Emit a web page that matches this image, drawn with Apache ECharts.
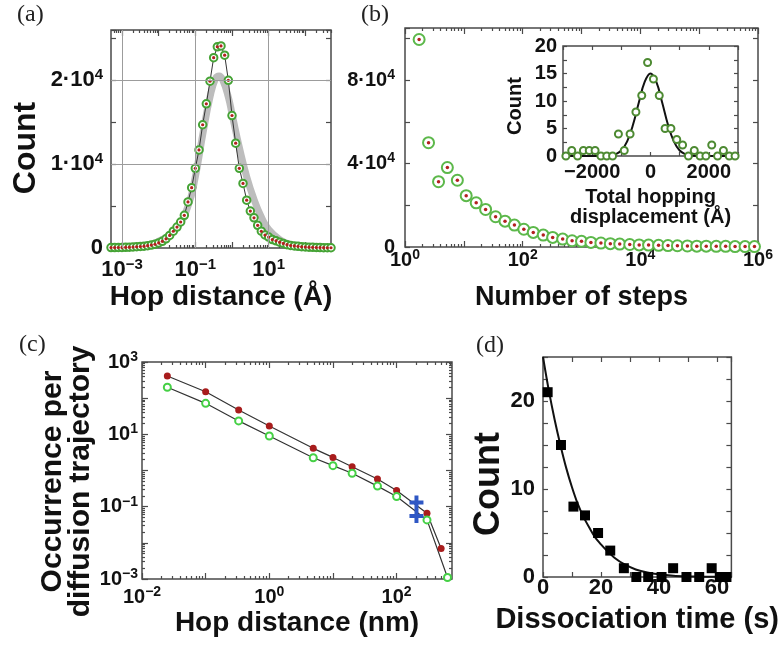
<!DOCTYPE html>
<html>
<head>
<meta charset="utf-8">
<script src="https://cdn.jsdelivr.net/npm/echarts@6/dist/echarts.min.js"></script>
<style>
html, body { margin: 0; background: #fff; }
#chart { width: 781px; height: 648px; }
</style>
</head>
<body>
<div id="chart"></div>
<script>
// (a) hop distance histogram, x is log10 of hop distance (Å)
const hopExpA = [-3.3, -3.2, -3.1, -3.0, -2.9, -2.8, -2.7, -2.6, -2.5, -2.4, -2.3, -2.2, -2.1, -2.0, -1.9, -1.8, -1.7, -1.6, -1.5, -1.4,
  -1.3, -1.2, -1.1, -1.0, -0.9, -0.8, -0.7, -0.6, -0.5, -0.4, -0.3, -0.2, -0.1, 0.0, 0.1, 0.2, 0.3, 0.4, 0.5, 0.6,
  0.7, 0.8, 0.9, 1.0, 1.1, 1.2, 1.3, 1.4, 1.5, 1.6, 1.7, 1.8, 1.9, 2.0, 2.1, 2.2, 2.3, 2.4, 2.5, 2.6, 2.7];
const hopCountA = [50, 50, 60, 70, 80, 100, 120, 150, 180, 220, 280, 350, 450, 600, 800, 1100, 1500, 2000, 2500, 3100,
  3900, 5500, 7200, 9500, 11700, 14700, 17200, 19900, 22700, 24000, 24100, 23000, 20000, 15800, 12500, 9500, 7700, 5700, 4400, 3600,
  2700, 2000, 1550, 1300, 1000, 850, 700, 550, 400, 300, 250, 200, 150, 120, 100, 80, 60, 50, 40, 30, 30];
const grayExpA = [-3.3, -2.5, -2.0, -1.5, -1.2, -1.0, -0.8, -0.6, -0.45, -0.35, -0.25, -0.1, 0.0, 0.2, 0.4, 0.6, 0.8, 1.0, 1.3, 1.6, 2.0, 2.7];
const grayCountA = [0, 200, 800, 2500, 5000, 8500, 13500, 18000, 20200, 20500, 20000, 18000, 16000, 12000, 8500, 5800, 3700, 2200, 1000, 400, 100, 0];

// (b) number of steps, x is log10 of steps
const stepExpB = [0.24, 0.40, 0.57, 0.72, 0.89, 1.04, 1.21, 1.37, 1.54, 1.70, 1.86, 2.02, 2.18, 2.35, 2.51, 2.68, 2.84, 3.00,
  3.16, 3.33, 3.49, 3.65, 3.82, 3.98, 4.14, 4.31, 4.47, 4.63, 4.80, 4.96, 5.12, 5.29, 5.45, 5.61, 5.78, 5.94];
const stepCountB = [99500, 50000, 31300, 38100, 32000, 24600, 21200, 18000, 14500, 12400, 10500, 8500, 7000, 5700, 4600, 3800, 3000, 2700,
  2200, 1900, 1600, 1400, 1200, 1000, 900, 800, 700, 600, 500, 400, 400, 300, 300, 200, 200, 200];

// (b) inset: total hopping displacement
const dispB = [-2900, -2700, -2500, -2300, -2100, -1900, -1700, -1500, -1300, -1100, -900, -700, -500, -300, -100,
  100, 300, 500, 700, 900, 1100, 1300, 1500, 1700, 1900, 2100, 2300, 2500, 2700, 2900];
const dispCountB = [0, 1, 0, 1, 1, 1, 0, 0, 0, 4, 1, 4, 8, 11, 17, 14, 11, 5, 5, 3, 2, 0, 1, 0, 0, 2, 0, 1, 0, 0];
const fitDispB = [-3000, -1600, -1400, -1200, -1000, -800, -600, -400, -200, 0, 200, 400, 600, 800, 1000, 1200, 1400, 1600, 3000];
const fitCountB = [0, 0.01, 0.08, 0.31, 1.0, 2.66, 5.67, 9.73, 13.46, 15, 13.46, 9.73, 5.67, 2.66, 1.0, 0.31, 0.08, 0.01, 0];

// (c) occurrence per trajectory vs hop distance (nm)
const hopNmRed = [0.025, 0.1, 0.33, 1, 4.9, 10, 20, 50, 100, 300, 500];
const occRed = [410, 150, 47, 17, 4.1, 2.3, 1.27, 0.58, 0.28, 0.066, 0.007];
const hopNmGreen = [0.025, 0.1, 0.33, 1, 4.9, 10, 20, 50, 100, 300, 630];
const occGreen = [200, 72, 23.5, 9, 2.26, 1.36, 0.84, 0.37, 0.19, 0.043, 0.0011];
const hopNmBlue = [205, 205];
const occBlue = [0.13, 0.055];

// (d) dissociation time histogram and fit
const timeD = [1.6, 6.2, 10.5, 14.5, 19.0, 23.2, 27.9, 32.2, 36.3, 40.9, 44.9, 49.5, 53.9, 58.2, 61.0, 63.3];
const countD = [21, 15, 8, 7, 5, 3, 1, 0, 0, 0, 1, 0, 0, 1, 0, 0];
const fitTimeD = [0, 2, 4, 6, 8, 10, 12, 14, 16, 18, 20, 22, 25, 28, 32, 36, 40, 45, 50, 55, 60, 65];
const fitCountD = [25, 21.2, 17.9, 15.0, 12.4, 10.2, 8.3, 6.8, 5.6, 4.5, 3.7, 3.0, 2.1, 1.45, 0.85, 0.5, 0.3, 0.15, 0.08, 0.04, 0.02, 0.01];

// tick labels (powers of ten)
const labelsA = [-3, -1, 1];
const labelsB = [0, 2, 4, 6];
const labelsCx = [-2, 0, 2];
const labelsCy = [-3, -1, 1, 3];

const SANS = '"Liberation Sans", Arial, sans-serif';
const FRAME = '#4a4a4a';

function pow10(v) {
  const e = Math.round(v);
  return '{b|10}{s|' + (e < 0 ? '\u2212' + (-e) : e) + '}';
}
function rich(fs) {
  return {
    b: {fontSize: fs, fontWeight: 'bold', fontFamily: SANS, color: '#111', lineHeight: Math.round(fs * 1.2)},
    s: {fontSize: Math.round(fs * 0.68), fontWeight: 'bold', fontFamily: SANS, color: '#111',
        lineHeight: Math.round(fs * 0.45), verticalAlign: 'top'}
  };
}
function nameStyle(fs, shift) {
  // shift > 0 moves a rotated y-axis name down the page
  const s = {fontSize: fs, fontWeight: 'bold', fontFamily: SANS, color: '#111'};
  if (shift) s.padding = [0, shift * 2, 0, 0];
  return s;
}
function majors(lo, hi) {
  const out = [];
  for (let e = Math.ceil(lo); e <= hi; e++) out.push(e);
  return out;
}
function minors(lo, hi) {
  const out = [];
  for (let e = Math.floor(lo); e < hi; e++) {
    for (let k = 2; k < 10; k++) {
      const v = e + Math.log10(k);
      if (v >= lo && v <= hi) out.push(v);
    }
  }
  return out;
}
const zip = (xs, ys, fx, fy) => xs.map((x, i) => [fx ? fx(x) : x, fy ? fy(ys[i]) : ys[i]]);

const xAxes = [], yAxes = [];
function axis(list, gi, pos, min, max, tick, label, name) {
  const a = {
    type: 'value', gridIndex: gi, position: pos, min: min, max: max,
    axisLine: {show: false, onZero: false},
    splitLine: {show: false},
    axisPointer: {show: false},
    axisTick: {inside: true, length: tick.len, lineStyle: {color: FRAME, width: 1.2}},
    axisLabel: {show: false}
  };
  if (tick.values) a.axisTick.customValues = tick.values;
  else a.interval = tick.interval;
  if (label) a.axisLabel = Object.assign({show: true, color: '#111', fontWeight: 'bold', fontFamily: SANS}, label);
  if (name) Object.assign(a, {nameLocation: 'middle'}, name);
  list.push(a);
  return list.length - 1;
}
function logSide(list, gi, pos, lo, hi, label, name) {
  const idx = axis(list, gi, pos, lo, hi, {values: majors(lo, hi), len: 6}, label, name);
  axis(list, gi, pos, lo, hi, {values: minors(lo, hi), len: 3});
  return idx;
}

// (a)
const xA = logSide(xAxes, 0, 'bottom', -3.3, 2.7,
  {customValues: labelsA, formatter: pow10, rich: rich(22), margin: 9},
  {name: 'Hop distance (Å)', nameGap: 35, nameTextStyle: nameStyle(28)});
logSide(xAxes, 0, 'top', -3.3, 2.7);
const yA = axis(yAxes, 0, 'left', 0, 26000, {interval: 5000, len: 5},
  {formatter: v => v === 0 ? '{b|0}' : (v % 10000 === 0 ? '{b|' + v / 10000 + '·10}{s|4}' : ''), rich: rich(22), margin: 8},
  {name: 'Count', nameGap: 69, nameTextStyle: nameStyle(32, 9)});
axis(yAxes, 0, 'right', 0, 26000, {interval: 5000, len: 5});

// (b)
const xB = logSide(xAxes, 1, 'bottom', 0, 6,
  {customValues: labelsB, formatter: pow10, rich: rich(20), margin: 1},
  {name: 'Number of steps', nameGap: 37, nameTextStyle: nameStyle(27)});
logSide(xAxes, 1, 'top', 0, 6);
const yB = axis(yAxes, 1, 'left', 0, 105000, {interval: 20000, len: 5},
  {formatter: v => v === 0 ? '{b|0}' : (v % 40000 === 0 ? '{b|' + v / 10000 + '·10}{s|4}' : ''), rich: rich(20), margin: 10});
axis(yAxes, 1, 'right', 0, 105000, {interval: 20000, len: 5});

// (b) inset
const xI = axis(xAxes, 2, 'bottom', -3000, 3000, {interval: 1000, len: 4},
  {formatter: v => v % 2000 === 0 ? String(v).replace('-', '\u2212') : '', fontSize: 20, lineHeight: 24, margin: 4},
  {name: 'Total hopping\ndisplacement (Å)', nameGap: 31, nameTextStyle: Object.assign(nameStyle(20), {lineHeight: 20})});
axis(xAxes, 2, 'top', -3000, 3000, {interval: 1000, len: 4});
const yI = axis(yAxes, 2, 'left', 0, 20, {interval: 2.5, len: 4},
  {formatter: v => v % 5 === 0 ? String(v) : '', fontSize: 20, margin: 6},
  {name: 'Count', nameGap: 38, nameTextStyle: nameStyle(20, 5)});
axis(yAxes, 2, 'right', 0, 20, {interval: 2.5, len: 4});

// (c)
const xC = logSide(xAxes, 3, 'bottom', -2, 2.87,
  {customValues: labelsCx, formatter: pow10, rich: rich(20), margin: 6},
  {name: 'Hop distance (nm)', nameGap: 30, nameTextStyle: nameStyle(28)});
logSide(xAxes, 3, 'top', -2, 2.87);
const yC = logSide(yAxes, 3, 'left', -3, 3,
  {customValues: labelsCy, formatter: pow10, rich: rich(20), margin: 4},
  {name: 'Occurrence per\ndiffusion trajectory', nameGap: 33, nameTextStyle: Object.assign(nameStyle(30, 11), {lineHeight: 28})});
logSide(yAxes, 3, 'right', -3, 3);

// (d)
const xD = axis(xAxes, 4, 'bottom', 0, 65, {interval: 10, len: 5},
  {formatter: v => v % 20 === 0 ? String(v) : '', fontSize: 22, lineHeight: 26, margin: -2},
  {name: 'Dissociation time (s)', nameGap: 28, nameTextStyle: nameStyle(29)});
axis(xAxes, 4, 'top', 0, 65, {interval: 10, len: 5});
const yD = axis(yAxes, 4, 'left', 0, 25, {interval: 2.5, len: 5},
  {formatter: v => v % 10 === 0 ? String(v) : '', fontSize: 22, margin: 8},
  {name: 'Count', nameGap: 24, nameTextStyle: nameStyle(36, 17)});
axis(yAxes, 4, 'right', 0, 25, {interval: 2.5, len: 5});

const plus = 'path://M-1.7,-6H1.7V-1.7H6V1.7H1.7V6H-1.7V1.7H-6V-1.7H-1.7Z';
const lg = Math.log10;

const option = {
  backgroundColor: '#fff',
  animation: false,
  grid: [
    {left: 111, top: 30, width: 220, height: 218},
    {left: 405, top: 28, width: 353, height: 219},
    {left: 563, top: 46, width: 175, height: 110, backgroundColor: '#fff'},
    {left: 142, top: 362, width: 310, height: 217},
    {left: 543, top: 357, width: 200, height: 220}
  ].map(g => Object.assign({show: true, borderColor: FRAME, borderWidth: 1.5, backgroundColor: 'transparent'}, g)),
  xAxis: xAxes,
  yAxis: yAxes,
  graphic: [
    {type: 'text', left: 17, top: 3, style: {text: '(a)', font: '24px "Liberation Serif"', fill: '#222'}},
    {type: 'text', left: 361, top: 3, style: {text: '(b)', font: '24px "Liberation Serif"', fill: '#222'}},
    {type: 'text', left: 19, top: 333, style: {text: '(c)', font: '24px "Liberation Serif"', fill: '#222'}},
    {type: 'text', left: 476, top: 334, style: {text: '(d)', font: '24px "Liberation Serif"', fill: '#222'}}
  ],
  series: [
    // (a)
    {type: 'line', xAxisIndex: xA, yAxisIndex: yA, data: zip(grayExpA, grayCountA), smooth: true, symbol: 'none',
     lineStyle: {color: '#bdbdbd', width: 7}, z: 1, silent: true,
     markLine: {silent: true, symbol: 'none', label: {show: false}, lineStyle: {color: '#9c9c9c', width: 1, type: 'solid'},
       data: [{xAxis: -3}, {xAxis: -1}, {xAxis: 1}, {yAxis: 10000}, {yAxis: 20000}]}},
    {type: 'line', xAxisIndex: xA, yAxisIndex: yA, data: zip(hopExpA, hopCountA), symbol: 'emptyCircle', symbolSize: 7.5,
     itemStyle: {color: '#45a335', borderWidth: 1.9}, lineStyle: {color: '#333', width: 1}, z: 3},
    {type: 'scatter', xAxisIndex: xA, yAxisIndex: yA, data: zip(hopExpA, hopCountA), symbolSize: 3.2,
     itemStyle: {color: '#b3201f', opacity: 1}, z: 4},
    // (b)
    {type: 'scatter', xAxisIndex: xB, yAxisIndex: yB, data: zip(stepExpB, stepCountB), symbol: 'emptyCircle', symbolSize: 11,
     itemStyle: {color: '#5cb84a', borderWidth: 3.4, opacity: 1}, z: 3},
    {type: 'scatter', xAxisIndex: xB, yAxisIndex: yB, data: zip(stepExpB, stepCountB), symbolSize: 3.5,
     itemStyle: {color: '#b3201f', opacity: 1}, z: 4},
    // (b) inset
    {type: 'line', xAxisIndex: xI, yAxisIndex: yI, data: zip(fitDispB, fitCountB), smooth: 0.4, symbol: 'none',
     lineStyle: {color: '#111', width: 2}, z: 3},
    {type: 'scatter', xAxisIndex: xI, yAxisIndex: yI, data: zip(dispB, dispCountB), symbol: 'emptyCircle', symbolSize: 7,
     itemStyle: {color: '#4d8a32', borderWidth: 1.6, opacity: 1}, z: 4},
    // (c)
    {type: 'line', xAxisIndex: xC, yAxisIndex: yC, data: zip(hopNmRed, occRed, lg, lg), symbol: 'circle', symbolSize: 7,
     itemStyle: {color: '#a81c1c'}, lineStyle: {color: '#333', width: 1.2}, z: 3},
    {type: 'line', xAxisIndex: xC, yAxisIndex: yC, data: zip(hopNmGreen, occGreen, lg, lg), symbol: 'emptyCircle', symbolSize: 7,
     itemStyle: {color: '#45d045', borderWidth: 2}, lineStyle: {color: '#333', width: 1.2}, z: 3},
    {type: 'scatter', xAxisIndex: xC, yAxisIndex: yC, data: zip(hopNmBlue, occBlue, lg, lg), symbol: plus, symbolSize: 14,
     itemStyle: {color: '#2f57c4', opacity: 1}, z: 5},
    // (d)
    {type: 'line', xAxisIndex: xD, yAxisIndex: yD, data: zip(fitTimeD, fitCountD), smooth: 0.3, symbol: 'none',
     lineStyle: {color: '#111', width: 2}, z: 3},
    {type: 'scatter', xAxisIndex: xD, yAxisIndex: yD, data: zip(timeD, countD), symbol: 'rect', symbolSize: 10,
     itemStyle: {color: '#000', opacity: 1}, z: 4}
  ]
};

const chart = echarts.init(document.getElementById('chart'));
chart.setOption(option);
</script>
</body>
</html>
